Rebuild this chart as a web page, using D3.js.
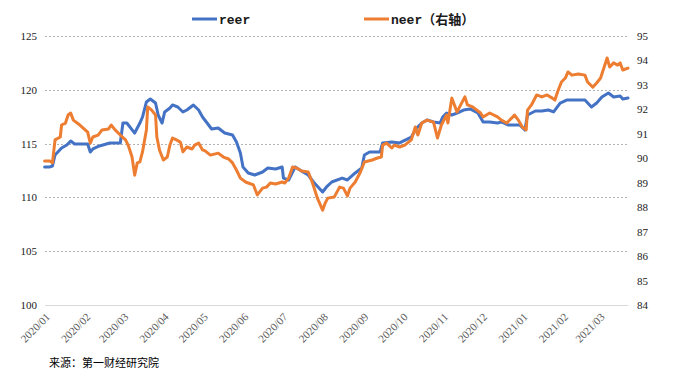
<!DOCTYPE html>
<html><head><meta charset="utf-8">
<script src="https://cdn.jsdelivr.net/npm/d3@7"></script>
<style>html,body{margin:0;padding:0;background:#fff;}svg{display:block;}</style>
</head><body>
<svg id="chart" width="674" height="379"></svg>
<script>
// ---- data ----
const reerDates = ["2020-01-03","2020-01-07","2020-01-09","2020-01-11","2020-01-16","2020-01-20","2020-01-23","2020-01-26","2020-02-05","2020-02-07","2020-02-09","2020-02-14","2020-02-22","2020-03-01","2020-03-03","2020-03-06","2020-03-12","2020-03-16","2020-03-18","2020-03-21","2020-03-24","2020-03-28","2020-03-30","2020-04-02","2020-04-04","2020-04-08","2020-04-10","2020-04-14","2020-04-18","2020-04-21","2020-04-26","2020-04-30","2020-05-03","2020-05-10","2020-05-15","2020-05-20","2020-05-26","2020-05-29","2020-06-01","2020-06-03","2020-06-07","2020-06-12","2020-06-18","2020-06-22","2020-06-28","2020-07-03","2020-07-04","2020-07-08","2020-07-13","2020-07-19","2020-07-23","2020-07-27","2020-08-03","2020-08-06","2020-08-10","2020-08-18","2020-08-22","2020-08-28","2020-09-02","2020-09-04","2020-09-08","2020-09-16","2020-09-18","2020-09-25","2020-10-01","2020-10-10","2020-10-14","2020-10-18","2020-10-22","2020-10-27","2020-11-01","2020-11-03","2020-11-06","2020-11-10","2020-11-14","2020-11-19","2020-11-24","2020-11-30","2020-12-04","2020-12-09","2020-12-15","2020-12-18","2020-12-23","2021-01-01","2021-01-05","2021-01-07","2021-01-13","2021-01-18","2021-01-23","2021-01-27","2021-02-01","2021-02-06","2021-02-12","2021-02-20","2021-02-25","2021-03-01","2021-03-05","2021-03-10","2021-03-14","2021-03-19","2021-03-21","2021-03-25"];
const reerValues = [112.83,112.83,112.92,113.94,114.59,114.87,115.24,114.96,114.96,114.22,114.50,114.78,115.06,115.06,116.91,116.91,115.98,116.91,117.47,118.87,119.15,118.77,117.66,116.91,117.94,118.31,118.59,118.40,117.94,118.12,118.59,118.12,117.47,116.36,116.45,115.98,115.80,115.15,114.13,112.83,112.27,112.08,112.36,112.73,112.64,112.83,111.80,111.62,112.83,112.36,112.08,111.43,110.50,110.97,111.43,111.80,111.62,112.27,112.73,113.94,114.22,114.22,115.06,115.15,115.06,115.61,116.45,116.91,117.19,117.01,116.91,117.47,117.84,117.66,117.84,118.12,118.22,117.84,117.01,117.01,116.91,117.01,116.73,116.73,116.26,117.66,118.03,118.03,118.12,117.94,118.77,119.05,119.05,119.05,118.40,118.77,119.33,119.70,119.33,119.42,119.15,119.24];

const neerDates = ["2020-01-03","2020-01-07","2020-01-09","2020-01-11","2020-01-15","2020-01-16","2020-01-19","2020-01-21","2020-01-23","2020-01-25","2020-01-30","2020-02-05","2020-02-07","2020-02-09","2020-02-13","2020-02-16","2020-02-21","2020-02-23","2020-02-26","2020-03-01","2020-03-05","2020-03-07","2020-03-10","2020-03-12","2020-03-14","2020-03-16","2020-03-18","2020-03-21","2020-03-22","2020-03-25","2020-03-28","2020-03-29","2020-03-31","2020-04-03","2020-04-06","2020-04-08","2020-04-10","2020-04-13","2020-04-16","2020-04-18","2020-04-21","2020-04-25","2020-04-27","2020-04-30","2020-05-03","2020-05-05","2020-05-09","2020-05-15","2020-05-19","2020-05-23","2020-05-26","2020-05-29","2020-06-01","2020-06-05","2020-06-07","2020-06-11","2020-06-14","2020-06-18","2020-06-21","2020-06-24","2020-06-28","2020-07-03","2020-07-05","2020-07-08","2020-07-11","2020-07-14","2020-07-18","2020-07-23","2020-07-26","2020-07-28","2020-07-30","2020-08-03","2020-08-05","2020-08-07","2020-08-12","2020-08-16","2020-08-19","2020-08-22","2020-08-24","2020-08-28","2020-09-01","2020-09-04","2020-09-10","2020-09-14","2020-09-17","2020-09-18","2020-09-21","2020-09-25","2020-09-27","2020-10-01","2020-10-05","2020-10-10","2020-10-13","2020-10-15","2020-10-18","2020-10-22","2020-10-27","2020-10-30","2020-11-02","2020-11-06","2020-11-07","2020-11-10","2020-11-14","2020-11-16","2020-11-20","2020-11-22","2020-11-26","2020-12-02","2020-12-04","2020-12-09","2020-12-15","2020-12-18","2020-12-22","2020-12-26","2020-12-28","2020-12-31","2021-01-03","2021-01-06","2021-01-07","2021-01-10","2021-01-14","2021-01-18","2021-01-22","2021-01-26","2021-01-28","2021-01-30","2021-02-02","2021-02-05","2021-02-07","2021-02-10","2021-02-15","2021-02-20","2021-02-22","2021-02-26","2021-03-01","2021-03-04","2021-03-06","2021-03-09","2021-03-11","2021-03-14","2021-03-17","2021-03-19","2021-03-21","2021-03-25"];
const neerValues = [89.89,89.89,89.81,90.75,90.87,91.36,91.44,91.77,91.85,91.56,91.36,91.07,90.62,90.87,90.95,91.16,91.20,91.36,91.16,90.95,90.75,90.54,90.05,89.31,89.81,89.85,90.26,91.16,92.10,91.97,91.77,90.87,90.34,89.93,90.05,90.54,90.83,90.75,90.66,90.26,90.46,90.38,90.54,90.62,90.34,90.30,90.13,90.21,90.05,89.97,89.81,89.52,89.19,89.03,88.99,88.91,88.50,88.78,88.82,88.99,88.95,89.03,88.99,89.19,89.64,89.60,89.48,89.44,89.03,88.70,88.37,87.88,88.17,88.37,88.42,88.82,88.78,88.46,88.78,89.03,89.44,89.85,89.93,90.01,90.05,90.54,90.62,90.42,90.54,90.46,90.54,90.75,91.28,90.95,91.44,91.56,91.48,90.83,91.36,91.77,91.44,92.46,91.89,92.10,92.51,92.18,92.10,91.85,91.69,91.85,91.69,91.56,91.44,91.65,91.77,91.56,91.28,91.16,91.97,92.18,92.59,92.51,92.59,92.46,92.38,92.71,93.12,93.28,93.53,93.40,93.45,93.40,93.12,92.91,93.08,93.28,93.61,94.10,93.73,93.90,93.81,93.90,93.61,93.69];

const xTickLabels = ["2020/01","2020/02","2020/03","2020/04","2020/05","2020/06","2020/07","2020/08","2020/09","2020/10","2020/11","2020/12","2021/01","2021/02","2021/03"];
const leftTicks = [100,105,110,115,120,125];
const rightTicks = [84,85,86,87,88,89,90,91,92,93,94,95];
const seriesNames = ["reer","neer（右轴）"];
const sourceText = "来源：第一财经研究院";

// ---- drawing ----
const svg = d3.select("#chart");
svg.append("rect").attr("width",674).attr("height",379).attr("fill","#fff");
const parseDay = d3.timeParse("%Y-%m-%d");
const parseMonth = d3.timeParse("%Y/%m");
const plotL = 45, plotR = 628, plotT = 36, plotB = 305;

const x = d3.scaleTime().domain([parseDay("2020-01-01"), parseDay("2021-03-25")]).range([42, plotR]);
const yL = d3.scaleLinear().domain([100,125]).range([plotB, plotT]);
const yR = d3.scaleLinear().domain([84,95]).range([plotB, plotT]);

// gridlines
svg.append("g").selectAll("line").data(leftTicks).join("line")
  .attr("x1", plotL).attr("x2", plotR)
  .attr("y1", d => Math.round(yL(d)) + 0.5).attr("y2", d => Math.round(yL(d)) + 0.5)
  .attr("stroke", d => d === 100 ? "#d9d9d9" : "#b3b3b3")
  .attr("stroke-width", 1)
  .attr("stroke-dasharray", d => d === 100 ? null : "2,2");

// left axis
const gL = svg.append("g").attr("transform", `translate(${plotL},0)`)
  .call(d3.axisLeft(yL).tickValues(leftTicks).tickSize(0).tickPadding(8));
gL.select(".domain").remove();
gL.selectAll("text").attr("font-family","Liberation Serif, serif").attr("font-size",11).attr("fill","#1a1a1a");

// right axis
const gR = svg.append("g").attr("transform", `translate(${plotR},0)`)
  .call(d3.axisRight(yR).tickValues(rightTicks).tickSize(0).tickPadding(9));
gR.select(".domain").remove();
gR.selectAll("text").attr("font-family","Liberation Serif, serif").attr("font-size",11).attr("fill","#1a1a1a");

// x labels
svg.append("g").selectAll("text").data(xTickLabels).join("text")
  .attr("transform", d => `translate(${x(parseMonth(d)) + 6},${plotB + 10}) rotate(-45)`)
  .attr("text-anchor","end").attr("dy","0.35em")
  .attr("font-family","Liberation Serif, serif").attr("font-size",11).attr("fill","#595959")
  .text(d => d);

// lines
const reer = reerDates.map((d,i) => ({date: parseDay(d), v: reerValues[i]}));
const neer = neerDates.map((d,i) => ({date: parseDay(d), v: neerValues[i]}));
const lineL = d3.line().x(d => x(d.date)).y(d => yL(d.v));
const lineR = d3.line().x(d => x(d.date)).y(d => yR(d.v));
svg.append("path").datum(reer).attr("d", lineL).attr("fill","none")
  .attr("stroke","#4472C4").attr("stroke-width",3).attr("stroke-linejoin","round").attr("stroke-linecap","round");
svg.append("path").datum(neer).attr("d", lineR).attr("fill","none")
  .attr("stroke","#ED7D31").attr("stroke-width",3).attr("stroke-linejoin","round").attr("stroke-linecap","round");

// legend
const colors = ["#4472C4","#ED7D31"];
const legendX = [192, 364];
const lg = svg.append("g").selectAll("g").data(seriesNames).join("g")
  .attr("transform", (d,i) => `translate(${legendX[i]},19)`);
lg.append("line").attr("x1",0).attr("x2",25).attr("y1",0).attr("y2",0)
  .attr("stroke",(d,i) => colors[i]).attr("stroke-width",3);
lg.append("text").attr("x",27).attr("y",4.5)
  .attr("font-family","Liberation Mono, 'Noto Sans CJK SC', monospace").attr("font-weight","bold")
  .attr("font-size",13).attr("fill","#1a1a1a").text(d => d);

// source
svg.append("text").attr("x",49).attr("y",367)
  .attr("font-family","'Noto Sans CJK SC', sans-serif").attr("font-size",11).attr("fill","#000")
  .text(sourceText);
</script>
</body></html>
